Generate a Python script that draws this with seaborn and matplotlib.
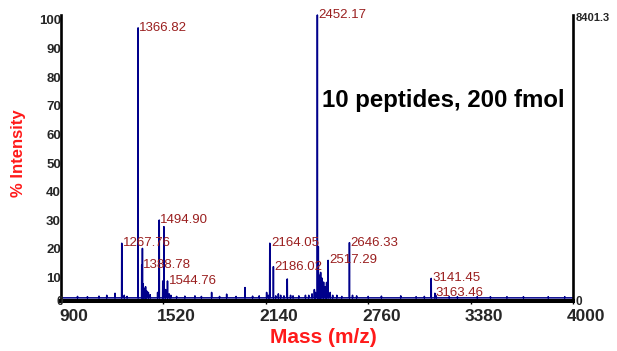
import matplotlib
matplotlib.use("Agg")
import matplotlib.pyplot as plt
import matplotlib.transforms as mtransforms
import numpy as np
import pandas as pd
import seaborn as sns

# Annotated peaks: m/z and relative intensity (%)
labeled_mass = [1267.76, 1366.82, 1388.78, 1494.90, 1544.76, 2164.05,
                2186.02, 2452.17, 2517.29, 2646.33, 3141.45, 3163.46]
labeled_int = [20.2, 95.5, 12.5, 28.3, 7.0, 20.2,
               12.0, 100.0, 14.2, 20.4, 7.9, 2.7]

# Unannotated peaks and noise spikes
other_mass = [1000, 1060, 1130, 1177, 1227, 1283, 1300, 1393, 1398, 1404, 1412,
              1419, 1429, 1440, 1485, 1516, 1523, 1533, 1555, 1565, 1600,
              1650, 1711, 1750, 1812, 1860, 1903, 1960, 2014, 2060, 2100,
              2145, 2155, 2200, 2216, 2230, 2250, 2270, 2290, 2305, 2340,
              2380, 2400, 2420, 2434, 2440, 2458, 2466, 2472, 2480, 2490,
              2500, 2508, 2530, 2545, 2570, 2600, 2665, 2690, 2760, 2840,
              2957, 3050, 3100, 3172, 3250, 3300, 3420, 3500, 3600, 3700,
              3850, 3950]
other_int = [1.6, 1.5, 1.7, 2.0, 2.7, 2.0, 1.6, 18.4, 6.0, 4.4, 5.0,
             3.5, 3.0, 2.2, 3.0, 7.0, 26.0, 4.0, 2.5, 2.0, 1.6,
             1.7, 1.8, 1.6, 3.0, 1.6, 2.4, 1.6, 4.7, 1.7, 1.8,
             3.0, 2.0, 1.8, 2.5, 2.0, 1.8, 7.7, 2.0, 1.8, 1.8,
             2.0, 2.0, 2.5, 4.0, 3.0, 19.0, 9.0, 10.0, 8.0, 6.6,
             5.0, 6.5, 3.0, 2.0, 2.0, 1.6, 2.0, 1.8, 1.6, 1.7,
             1.8, 1.5, 1.6, 1.8, 1.5, 1.5, 1.5, 1.5, 1.5, 1.5,
             1.5, 1.5]

baseline_level = 1.1
x_ticks = [900, 1520, 2140, 2760, 3380, 4000]
y_ticks = [10, 20, 30, 40, 50, 60, 70, 80, 90, 100]
max_counts = "8401.3"
sample_note = "10 peptides, 200 fmol"

sns.set_theme(style="white")
plt.rcParams["font.family"] = ["Liberation Sans", "DejaVu Sans"]

# Build a stick spectrum polyline from the peak lists
masses = np.array(labeled_mass + other_mass)
ints = np.array(labeled_int + other_int)
order = np.argsort(masses)
xs = [x_ticks[0]]
ys = [baseline_level]
for i in order:
    m, h = masses[i], ints[i]
    xs += [m - 1.0, m, m + 1.0]
    ys += [baseline_level, h, baseline_level]
xs.append(x_ticks[-1])
ys.append(baseline_level)
spectrum = pd.DataFrame({"mass": xs, "intensity": ys})

fig = plt.figure(figsize=(6.17, 3.51), dpi=100)
fig.patch.set_facecolor("white")
ax = fig.add_axes([61 / 617, 50 / 351, 512 / 617, 286 / 351])
ax.set_facecolor("white")

sns.lineplot(data=spectrum, x="mass", y="intensity", sort=False,
             estimator=None, color="#00008B", lw=1.1, ax=ax)
for ln in ax.lines:
    ln.set_clip_on(False)

ax.set_xlim(x_ticks[0], x_ticks[-1])
ax.set_ylim(0, 100)
ax.set_xlabel("")
ax.set_ylabel("")

# Peak annotations
for m, h in zip(labeled_mass, labeled_int):
    ax.annotate(f"{m:.2f}", xy=(m, h), xytext=(0.8, 0),
                textcoords="offset points", ha="left", va="center",
                fontsize=9.5, color="#9A1F1F", annotation_clip=False)

# Spines
ax.spines["top"].set_visible(False)
for side, lw in (("left", 1.9), ("right", 1.9), ("bottom", 2.9)):
    ax.spines[side].set_color("black")
    ax.spines[side].set_linewidth(lw)

# Ticks
ax.set_xticks(x_ticks)
ax.set_xticklabels([str(t) for t in x_ticks], fontsize=12.5, fontweight="bold")
ax.tick_params(axis="x", direction="out", length=2.5, width=1,
               color="black", pad=3.5, bottom=True)
shift_x = mtransforms.ScaledTranslation(13 / 100, 0, fig.dpi_scale_trans)
for lab in ax.get_xticklabels():
    lab.set_transform(lab.get_transform() + shift_x)

ax.set_yticks(y_ticks)
ax.set_yticklabels([str(t) for t in y_ticks], fontsize=9.5, fontweight="bold")
ax.tick_params(axis="y", length=0, pad=0, left=True)
shift_y = mtransforms.ScaledTranslation(0, -5 / 100, fig.dpi_scale_trans)
for lab in ax.get_yticklabels():
    lab.set_transform(lab.get_transform() + shift_y)

# Zero marks at both lower corners and the maximum count on the right axis
ax.text(0, 0, "0", transform=ax.transAxes + mtransforms.ScaledTranslation(
        -1 / 100, -1 / 100, fig.dpi_scale_trans), ha="center", va="center",
        fontsize=8.5, fontweight="bold")
ax.text(1.0, 0, "0", transform=ax.transAxes + mtransforms.ScaledTranslation(
        6 / 100, -1 / 100, fig.dpi_scale_trans), ha="center", va="center",
        fontsize=8.5, fontweight="bold")
ax.text(1.0, 1.0, max_counts, transform=ax.transAxes + mtransforms.ScaledTranslation(
        3 / 100, -3 / 100, fig.dpi_scale_trans), ha="left", va="center",
        fontsize=8, fontweight="bold")

# Axis titles and note
fig.text(323 / 617, 1 - 343 / 351, "Mass (m/z)", ha="center", va="baseline",
         fontsize=15, fontweight="bold", color="#FF1A1A")
fig.text(19 / 617, 1 - 153 / 351, "% Intensity", ha="center", va="center",
         rotation=90, fontsize=12, fontweight="bold", color="#FF1A1A")
fig.text(322 / 617, 1 - 107 / 351, sample_note, ha="left", va="baseline",
         fontsize=17.3, fontweight="bold", color="black")

fig.savefig("out.png", dpi=100, facecolor="white")
